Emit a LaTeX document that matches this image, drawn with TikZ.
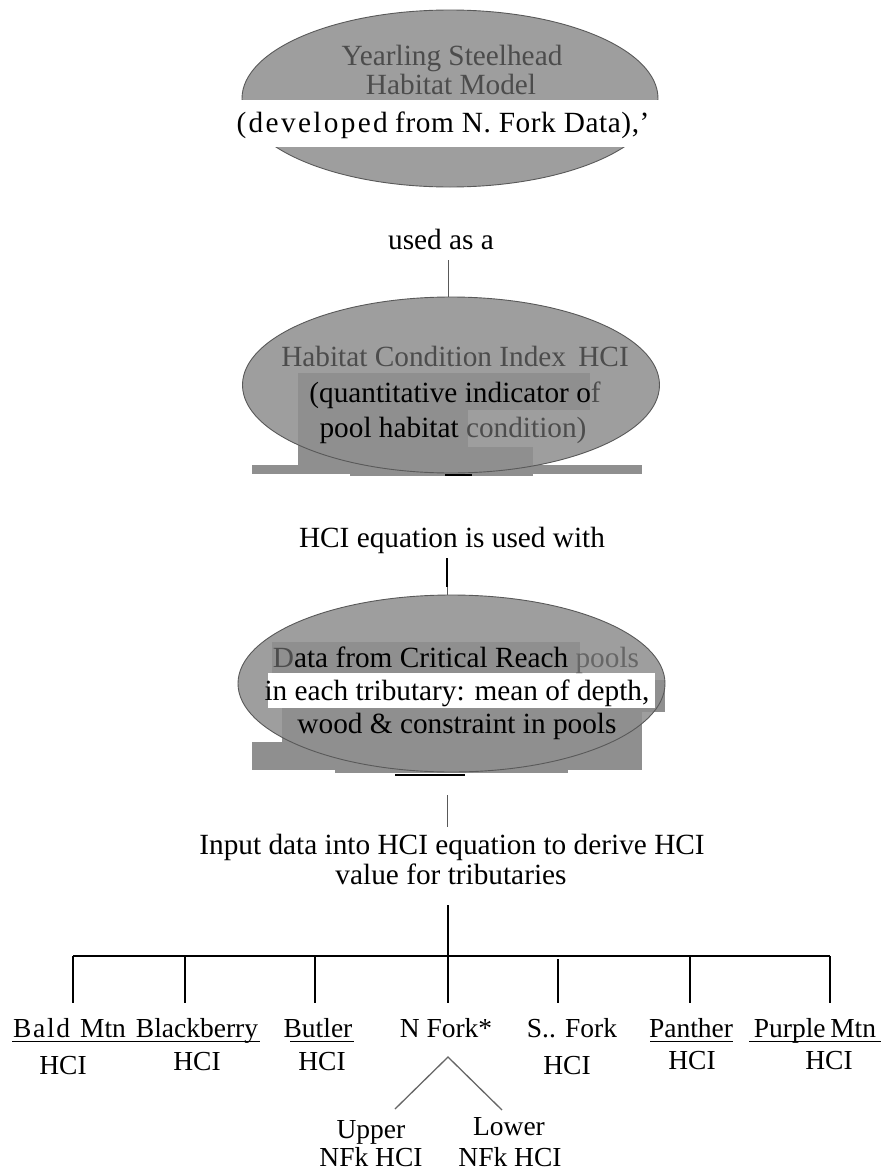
\documentclass[tikz,border=0pt]{standalone}
\usepackage{fontspec}
\setmainfont{Liberation Serif}
\usepackage{graphicx}
\usetikzlibrary{shapes.geometric}
\definecolor{ellfill}{gray}{0.62}
\definecolor{patchgray}{gray}{0.56}
\definecolor{dimtext}{gray}{0.30}
\definecolor{midtext}{gray}{0.40}
\definecolor{rimgray}{gray}{0.35}
\begin{document}
\begin{tikzpicture}[x=1pt,y=-1pt,
  ellbase/.style={ellipse, fill=ellfill, draw=none, inner sep=0pt, outer sep=0pt},
  rim/.style={draw=rimgray, line width=0.9pt},
  txt/.style={anchor=base, inner sep=0pt, font=\fontsize{29.3}{34}\selectfont},
  lbl/.style={anchor=base, inner sep=0pt, font=\fontsize{27.5}{30}\selectfont},
  thinln/.style={draw=black!65, line width=0.8pt},
  stemln/.style={draw=black, line width=1.2pt},
  dropln/.style={draw=black, line width=1.8pt},
  barln/.style={draw=black, line width=2.6pt},
  forkln/.style={draw=black!60, line width=1.3pt},
  ul/.style={draw=black, line width=1.8pt},
]
\useasboundingbox (0,0) rectangle (894,1170);

% ---------- ellipse 1 ----------
\node[ellbase, minimum width=416pt, minimum height=177pt] (e1) at (450,98.5) {};
\draw[rim] (e1.center) ellipse [x radius=208pt, y radius=88.5pt];
\fill[white] (230,100) rectangle (670,147);
\node[txt, text=dimtext] (y1) at (452,65) {Yearling Steelhead};
\node[txt, text=dimtext] (y2) at (451,94) {Habitat Model};
\node[txt] (y3) at (443,132) {{\addfontfeature{LetterSpace=8}(developed} {\addfontfeature{LetterSpace=2}from N. Fork Data),’}};

% ---------- connector 1 ----------
\node[txt] (u1) at (441,249) {used as a};
\coordinate (c1) at (448,260);

% ---------- ellipse 2 ----------
\node[ellbase, minimum width=417pt, minimum height=176pt] (e2) at (451,385) {};
\fill[patchgray] (298,373) rectangle (590,410);
\fill[patchgray] (298,410) rectangle (468,465);
\fill[patchgray] (468,447) rectangle (533,465);
\fill[patchgray] (252,465) rectangle (642,474);
\fill[patchgray] (350,474) rectangle (533,476);
\draw[rim] (e2.center) ellipse [x radius=208.5pt, y radius=88pt];
\draw[black, line width=2pt] (445,475) -- (472,475);
\node[txt, text=dimtext] (h1) at (455,366) {Habitat Condition Index\, HCI};
\node[txt] (h2) at (455,402) {(quantitative indicator o\textcolor{dimtext}{f}};
\node[txt] (h3) at (453,437) {pool habitat \textcolor{dimtext}{condition)}};

\draw[thinln] (c1) -- (c1 |- e2.north);

% ---------- connector 2 ----------
\node[txt] (u2) at (452,547) {HCI equation is used with};
\coordinate (c2) at (447,558);
\coordinate (c2m) at (447,587);

% ---------- ellipse 3 ----------
\node[ellbase, minimum width=427pt, minimum height=177pt] (e3) at (451.5,683.5) {};
\fill[patchgray] (272,642) rectangle (580,673);
\fill[white] (268,673) rectangle (655,708);
\fill[patchgray] (655,680) rectangle (665,712);
\fill[patchgray] (282,708) rectangle (665,712);
\fill[patchgray] (282,712) rectangle (642,742);
\fill[patchgray] (252,742) rectangle (642,770);
\fill[patchgray] (335,770) rectangle (568,773);
\draw[rim] (e3.center) ellipse [x radius=213.5pt, y radius=88.5pt];
\draw[black, line width=2pt] (395,775) -- (465,775);
\node[txt] (d1) at (456,667) {\textcolor{dimtext}{D}ata from Critical Reach \textcolor{midtext}{pools}};
\node[txt] (d2) at (457,700) {in each tributary: mean of depth,};
\node[txt] (d3) at (457,733) {wood \& constraint in pools};

\draw[stemln] (c2) -- (c2m);
\draw[thinln] (c2m) -- (c2m |- e3.north);

% ---------- connector 3 ----------
\coordinate (c3a) at (447,795);
\coordinate (c3b) at (447,827);
\draw[thinln] (c3a) -- (c3b);
\node[txt] (i1) at (452,854) {Input data into HCI equation to derive HCI};
\node[txt] (i2) at (451,884) {value for tributaries};

% ---------- tree ----------
\coordinate (t0) at (448,905);
\coordinate (tm) at (448,956);
\draw[stemln] (t0) -- (tm);
\coordinate (hL) at (73,956);
\coordinate (hR) at (830,956);
\draw[barln] (hL) -- (hR);
\foreach \x/\n in {73/1,185/2,315/3,448/4,690/6,830/7}{
  \coordinate (top\n) at (\x,956);
  \coordinate (bot\n) at (\x,1003);
  \draw[dropln] (top\n) -- (bot\n);
}
\coordinate (top5) at (558,959);
\coordinate (bot5) at (558,1003);
\draw[dropln] (top5) -- (bot5);

% labels
\node[lbl, anchor=base west] (bald) at (13,1037) {{\addfontfeature{LetterSpace=6}Bald}\hspace{10pt}Mtn};
\node[lbl] (black) at (197,1037) {Blackberry};
\node[lbl] (butl) at (318,1037) {Butler};
\node[lbl] (nfork) at (446,1037) {N Fork*};
\node[lbl] (sfork) at (572,1037) {S.. Fork};
\node[lbl] (panth) at (691,1037) {Panther};
\node[lbl] (purp) at (815,1037) {Purple\,Mtn};
\draw[ul] (12,1041.5) -- (260,1041.5);
\draw[ul] (290,1041.5) -- (354,1041.5);
\draw[ul] (650,1041.5) -- (733,1041.5);
\draw[ul] (749,1041.5) -- (881,1041.5);

\node[lbl] (hci1) at (63,1074) {HCI};
\node[lbl] (hci2) at (197,1070) {HCI};
\node[lbl] (hci3) at (322,1070) {HCI};
\node[lbl] (hci5) at (567,1074) {HCI};
\node[lbl] (hci6) at (692,1069) {HCI};
\node[lbl] (hci7) at (829,1069) {HCI};

% N Fork split
\coordinate (apex) at (448,1057);
\coordinate (fl) at (395,1109);
\coordinate (fr) at (502,1110);
\draw[forkln] (fl) -- (apex) -- (fr);
\node[lbl] (up1) at (371,1138) {Upper};
\node[lbl] (up2) at (371,1166) {NFk HCI};
\node[lbl] (lo1) at (509,1135) {Lower};
\node[lbl] (lo2) at (510,1166) {NFk HCI};
\end{tikzpicture}
\end{document}
